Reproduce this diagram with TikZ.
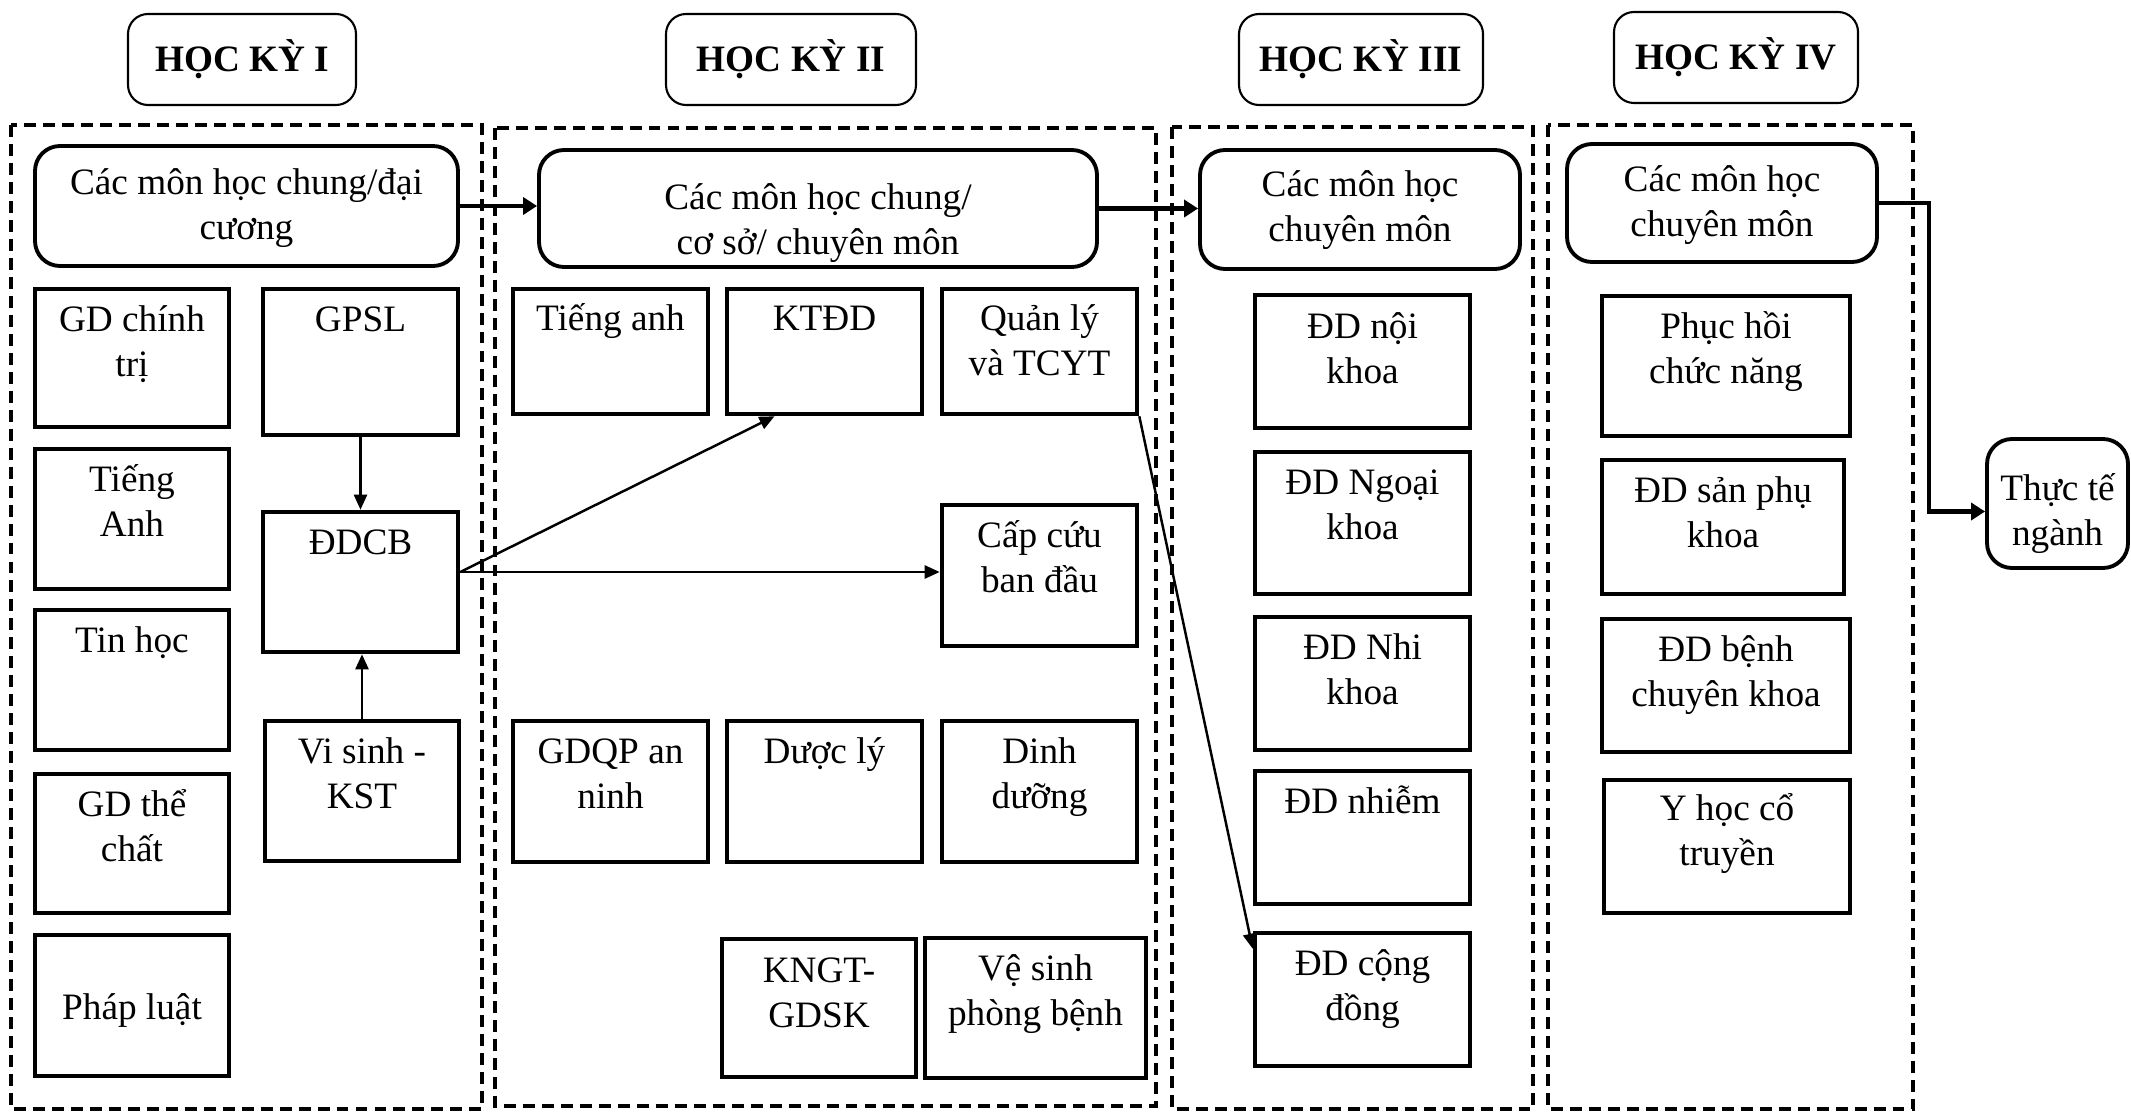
\documentclass[tikz,border=0pt]{standalone}
\usepackage{fontspec}
\setmainfont{Liberation Serif}
\usepackage{tikz}
\usetikzlibrary{arrows.meta, positioning, calc}

\begin{document}
\begin{tikzpicture}[
    font=\fontsize{10.6pt}{12.8pt}\selectfont,
    >={Triangle[length=0.15cm, width=0.13cm]},
    % Node styles
    hkbox/.style={draw, rounded corners=0.2cm, line width=0.6pt, font=\fontsize{10.6pt}{12.8pt}\selectfont\bfseries, minimum width=2.44cm, minimum height=0.91cm, inner sep=0pt},
    groupbox/.style={draw, rounded corners=0.25cm, line width=1.1pt, minimum height=1.18cm},
    subjbox/.style={draw, line width=1.3pt, minimum width=1.95cm, minimum height=1.4cm},
    boxtext/.style={anchor=base, align=center, inner sep=0pt},
    kyframe/.style={draw, line width=0.95pt, dash pattern=on 3.4pt off 2pt},
    arrow/.style={->, line width=0.7pt},
    thickarrow/.style={-{Triangle[length=0.14cm, width=0.17cm]}, line width=1.2pt}
]
\useasboundingbox (0,0) rectangle (21.31,-11.12);

% ========== Headers ==========
\node[hkbox, minimum width=2.28cm] (hk1) at (2.42,-0.595) {HỌC KỲ I};
\node[hkbox, minimum width=2.50cm] (hk2) at (7.91,-0.595) {HỌC KỲ II};
\node[hkbox] (hk3) at (13.61,-0.595) {HỌC KỲ III};
\node[hkbox] (hk4) at (17.36,-0.575) {HỌC KỲ IV};

% ========== Dashed frames ==========
\draw[kyframe] (0.11,-1.25) rectangle (4.82,-11.09);
\draw[kyframe] (4.95,-1.28) rectangle (11.56,-11.06);
\draw[kyframe] (11.72,-1.27) rectangle (15.33,-11.09);
\draw[kyframe] (15.48,-1.25) rectangle (19.13,-11.09);

% ========== Group boxes ==========
% (text nodes sit on the baseline of their last line)
\node[groupbox, minimum width=4.23cm, minimum height=1.20cm] (g1) at (2.465,-2.06) {};
\node[boxtext] (g1-t) at ([yshift=-0.95cm]g1.north) {Các môn học chung/đại\\cương};
\node[groupbox, minimum width=5.58cm, minimum height=1.17cm] (g2) at (8.18,-2.085) {};
\node[boxtext] (g2-t) at ([yshift=-1.06cm]g2.north) {Các môn học chung/\\cơ sở/ chuyên môn};
\node[groupbox, minimum width=3.20cm, minimum height=1.19cm] (g3) at (13.60,-2.095) {};
\node[boxtext] (g3-t) at ([yshift=-0.93cm]g3.north) {Các môn học\\chuyên môn};
\node[groupbox, minimum width=3.10cm] (g4) at (17.22,-2.03) {};
\node[boxtext] (g4-t) at ([yshift=-0.94cm]g4.north) {Các môn học\\chuyên môn};
\node[groupbox, minimum width=1.41cm, minimum height=1.29cm] (thucte) at (20.575,-5.035) {};
\node[boxtext] (thucte-t) at ([yshift=-1.08cm]thucte.north) {Thực tế\\ngành};

% ========== HỌC KỲ I ==========
\node[subjbox, minimum width=1.94cm, minimum height=1.38cm] (gdct) at (1.32,-3.58) {};
\node[boxtext] (gdct-t) at ([yshift=-0.90cm]gdct.north) {GD chính\\trị};
\node[subjbox, minimum width=1.94cm] (tienganh1) at (1.32,-5.19) {};
\node[boxtext] (tienganh1-t) at ([yshift=-0.90cm]tienganh1.north) {Tiếng\\Anh};
\node[subjbox, minimum width=1.94cm] (tinhoc) at (1.32,-6.80) {};
\node[boxtext] (tinhoc-t) at ([yshift=-0.45cm]tinhoc.north) {Tin học};
\node[subjbox, minimum width=1.94cm, minimum height=1.39cm] (gdtc) at (1.32,-8.435) {};
\node[boxtext] (gdtc-t) at ([yshift=-0.90cm]gdtc.north) {GD thể\\chất};
\node[subjbox, minimum width=1.94cm, minimum height=1.41cm] (phapluat) at (1.32,-10.055) {};
\node[boxtext] (phapluat-t) at ([yshift=-0.87cm]phapluat.north) {Pháp luật};

\node[subjbox, minimum height=1.46cm] (gpsl) at (3.605,-3.62) {};
\node[boxtext] (gpsl-t) at ([yshift=-0.45cm]gpsl.north) {GPSL};
\node[subjbox] (ddcb) at (3.605,-5.82) {};
\node[boxtext] (ddcb-t) at ([yshift=-0.45cm]ddcb.north) {ĐDCB};
\node[subjbox, minimum width=1.94cm] (visinh) at (3.62,-7.91) {};
\node[boxtext] (visinh-t) at ([yshift=-0.90cm]visinh.north) {Vi sinh -\\KST};

% ========== HỌC KỲ II ==========
\node[subjbox, minimum height=1.25cm] (tienganh2) at (6.105,-3.515) {};
\node[boxtext] (tienganh2-t) at ([yshift=-0.44cm]tienganh2.north) {Tiếng anh};
\node[subjbox, minimum height=1.25cm] (ktdd) at (8.245,-3.515) {};
\node[boxtext] (ktdd-t) at ([yshift=-0.44cm]ktdd.north) {KTĐD};
\node[subjbox, minimum height=1.25cm] (qlyt) at (10.395,-3.515) {};
\node[boxtext] (qlyt-t) at ([yshift=-0.89cm]qlyt.north) {Quản lý\\và TCYT};
\node[subjbox, minimum height=1.41cm] (capcuu) at (10.395,-5.755) {};
\node[boxtext] (capcuu-t) at ([yshift=-0.90cm]capcuu.north) {Cấp cứu\\ban đầu};

\node[subjbox, minimum height=1.41cm] (gdqp) at (6.105,-7.915) {};
\node[boxtext] (gdqp-t) at ([yshift=-0.90cm]gdqp.north) {GDQP an\\ninh};
\node[subjbox, minimum height=1.41cm] (duocly) at (8.245,-7.915) {};
\node[boxtext] (duocly-t) at ([yshift=-0.45cm]duocly.north) {Dược lý};
\node[subjbox, minimum height=1.41cm] (dinhduong) at (10.395,-7.915) {};
\node[boxtext] (dinhduong-t) at ([yshift=-0.90cm]dinhduong.north) {Dinh\\dưỡng};

\node[subjbox, minimum width=1.94cm, minimum height=1.38cm] (kngt) at (8.19,-10.08) {};
\node[boxtext] (kngt-t) at ([yshift=-0.91cm]kngt.north) {KNGT-\\GDSK};
\node[subjbox, minimum width=2.21cm] (vesinh) at (10.355,-10.08) {};
\node[boxtext] (vesinh-t) at ([yshift=-0.90cm]vesinh.north) {Vệ sinh\\phòng bệnh};

% ========== HỌC KỲ III ==========
\node[subjbox, minimum width=2.15cm, minimum height=1.33cm] (ddnoi) at (13.625,-3.615) {};
\node[boxtext] (ddnoi-t) at ([yshift=-0.91cm]ddnoi.north) {ĐD nội\\khoa};
\node[subjbox, minimum width=2.15cm, minimum height=1.42cm] (ddngoai) at (13.625,-5.23) {};
\node[boxtext] (ddngoai-t) at ([yshift=-0.90cm]ddngoai.north) {ĐD Ngoại\\khoa};
\node[subjbox, minimum width=2.15cm, minimum height=1.33cm] (ddnhi) at (13.625,-6.835) {};
\node[boxtext] (ddnhi-t) at ([yshift=-0.90cm]ddnhi.north) {ĐD Nhi\\khoa};
\node[subjbox, minimum width=2.15cm, minimum height=1.33cm] (ddnhiem) at (13.625,-8.375) {};
\node[boxtext] (ddnhiem-t) at ([yshift=-0.45cm]ddnhiem.north) {ĐD nhiễm};
\node[subjbox, minimum width=2.15cm, minimum height=1.33cm] (ddcd) at (13.625,-9.995) {};
\node[boxtext] (ddcd-t) at ([yshift=-0.90cm]ddcd.north) {ĐD cộng\\đồng};

% ========== HỌC KỲ IV ==========
\node[subjbox, minimum width=2.48cm] (phuchoi) at (17.26,-3.66) {};
\node[boxtext] (phuchoi-t) at ([yshift=-0.90cm]phuchoi.north) {Phục hồi\\chức năng};
\node[subjbox, minimum width=2.42cm, minimum height=1.34cm] (ddsan) at (17.23,-5.27) {};
\node[boxtext] (ddsan-t) at ([yshift=-0.90cm]ddsan.north) {ĐD sản phụ\\khoa};
\node[subjbox, minimum width=2.48cm, minimum height=1.33cm] (ddbenh) at (17.26,-6.855) {};
\node[boxtext] (ddbenh-t) at ([yshift=-0.90cm]ddbenh.north) {ĐD bệnh\\chuyên khoa};
\node[subjbox, minimum width=2.46cm, minimum height=1.33cm] (yhoc) at (17.27,-8.465) {};
\node[boxtext] (yhoc-t) at ([yshift=-0.88cm]yhoc.north) {Y học cổ\\truyền};

% ========== ARROWS ==========
% between semesters
\draw[thickarrow] (g1.east) -- (g1.east -| g2.west);
\draw[thickarrow] (g2.east) -- (g2.east -| g3.west);
\draw[thickarrow] (g4.east) -- ++(0.5,0) |- ([yshift=-0.08cm]thucte.west);

% inside semester I
\draw[arrow] (gpsl.south) -- (ddcb.north);
\draw[arrow] (visinh.north) -- (visinh.north |- ddcb.south);

% ĐDCB and Quản lý onwards
\draw[arrow] ([yshift=0.1cm]ddcb.east) -- ([xshift=-0.5cm]ktdd.south);
\draw[arrow] ([yshift=0.1cm]ddcb.east) -- ([yshift=0.1cm]ddcb.east -| capcuu.west);
\draw[arrow] (qlyt.south east) -- ([yshift=-0.18cm]ddcd.north west);

\end{tikzpicture}
\end{document}
